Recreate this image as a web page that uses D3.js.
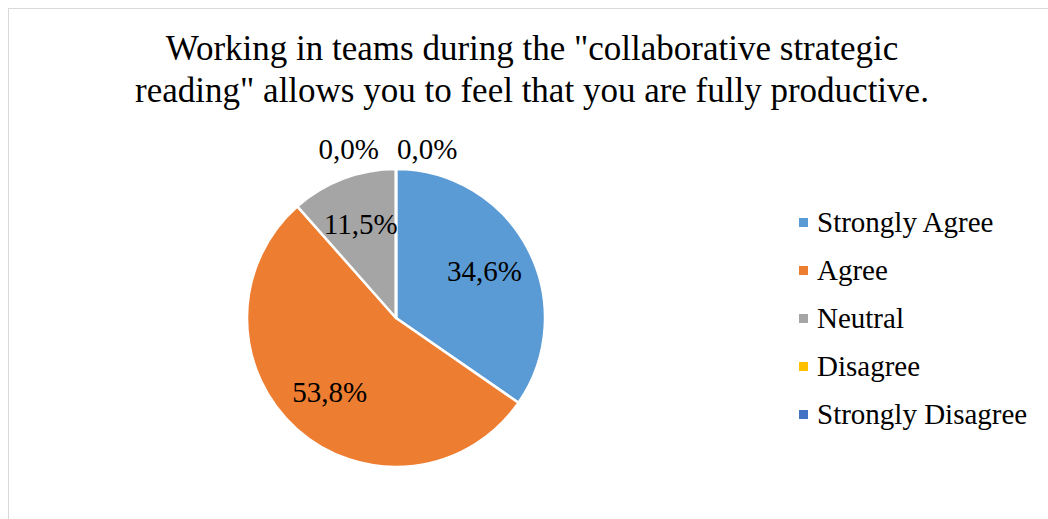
<!DOCTYPE html>
<html>
<head>
<meta charset="utf-8">
<script src="https://cdn.jsdelivr.net/npm/d3@7"></script>
<style>
  html, body { margin: 0; padding: 0; background: #fff; }
  svg { display: block; }
  text { font-family: "Liberation Serif", "Times New Roman", serif; fill: #000; }
</style>
</head>
<body>
<svg id="chart" width="1048" height="519"></svg>
<script>
// Survey responses (percent of students)
const categories = ["Strongly Agree", "Agree", "Neutral", "Disagree", "Strongly Disagree"];
const values = [34.6, 53.8, 11.5, 0.0, 0.0];
const colors = ["#5B9BD5", "#ED7D31", "#A5A5A5", "#FFC000", "#4472C4"];
const titleLines = [
  "Working in teams during the \"collaborative strategic",
  "reading\" allows you to feel that you are fully productive."
];

const svg = d3.select("#chart");
const W = 1048, H = 519;

// chart frame
svg.append("rect")
  .attr("x", 8.5).attr("y", 8.5)
  .attr("width", W + 10).attr("height", H + 10)
  .attr("fill", "#fff").attr("stroke", "#d9d9d9").attr("stroke-width", 1);

// title
svg.append("g").selectAll("text")
  .data(titleLines)
  .join("text")
  .attr("x", 532)
  .attr("y", (d, i) => 60 + i * 42)
  .attr("text-anchor", "middle")
  .attr("font-size", 35)
  .text(d => d);

// pie
const cx = 396, cy = 318, R = 149;
const fmt = v => d3.format(".1f")(v).replace(".", ",") + "%";
const pie = d3.pie().sort(null).value(d => d.v);
const arcs = pie(categories.map((c, i) => ({ c, v: values[i], col: colors[i] })));
const arc = d3.arc().innerRadius(0).outerRadius(R);
const labelArc = d3.arc().innerRadius(R * 0.67).outerRadius(R * 0.67);

const g = svg.append("g").attr("transform", `translate(${cx},${cy})`);
g.selectAll("path")
  .data(arcs)
  .join("path")
  .attr("d", arc)
  .attr("fill", d => d.data.col)
  .attr("stroke", "#fff")
  .attr("stroke-width", 2.5)
  .attr("stroke-linejoin", "round");

// data labels: inside for non-empty slices, above the top for empty ones
let zeroIdx = 0;
g.selectAll("text.lbl")
  .data(arcs)
  .join("text")
  .attr("class", "lbl")
  .attr("font-size", 29)
  .each(function (d) {
    const t = d3.select(this);
    if (d.data.v > 0) {
      const [x, y] = labelArc.centroid(d);
      t.attr("x", x).attr("y", y + 9).attr("text-anchor", "middle");
    } else {
      const first = zeroIdx++ === 0;
      t.attr("x", first ? -17 : 1)
        .attr("y", -R - 10)
        .attr("text-anchor", first ? "end" : "start");
    }
  })
  .text(d => fmt(d.data.v));

// legend
const lg = svg.append("g").attr("transform", "translate(799,223)");
const rows = lg.selectAll("g")
  .data(categories)
  .join("g")
  .attr("transform", (d, i) => `translate(0,${i * 48})`);
rows.append("rect")
  .attr("x", 0).attr("y", -5)
  .attr("width", 9).attr("height", 9)
  .attr("fill", (d, i) => colors[i]);
rows.append("text")
  .attr("x", 18).attr("y", 9)
  .attr("font-size", 29)
  .text(d => d);
</script>
</body>
</html>
